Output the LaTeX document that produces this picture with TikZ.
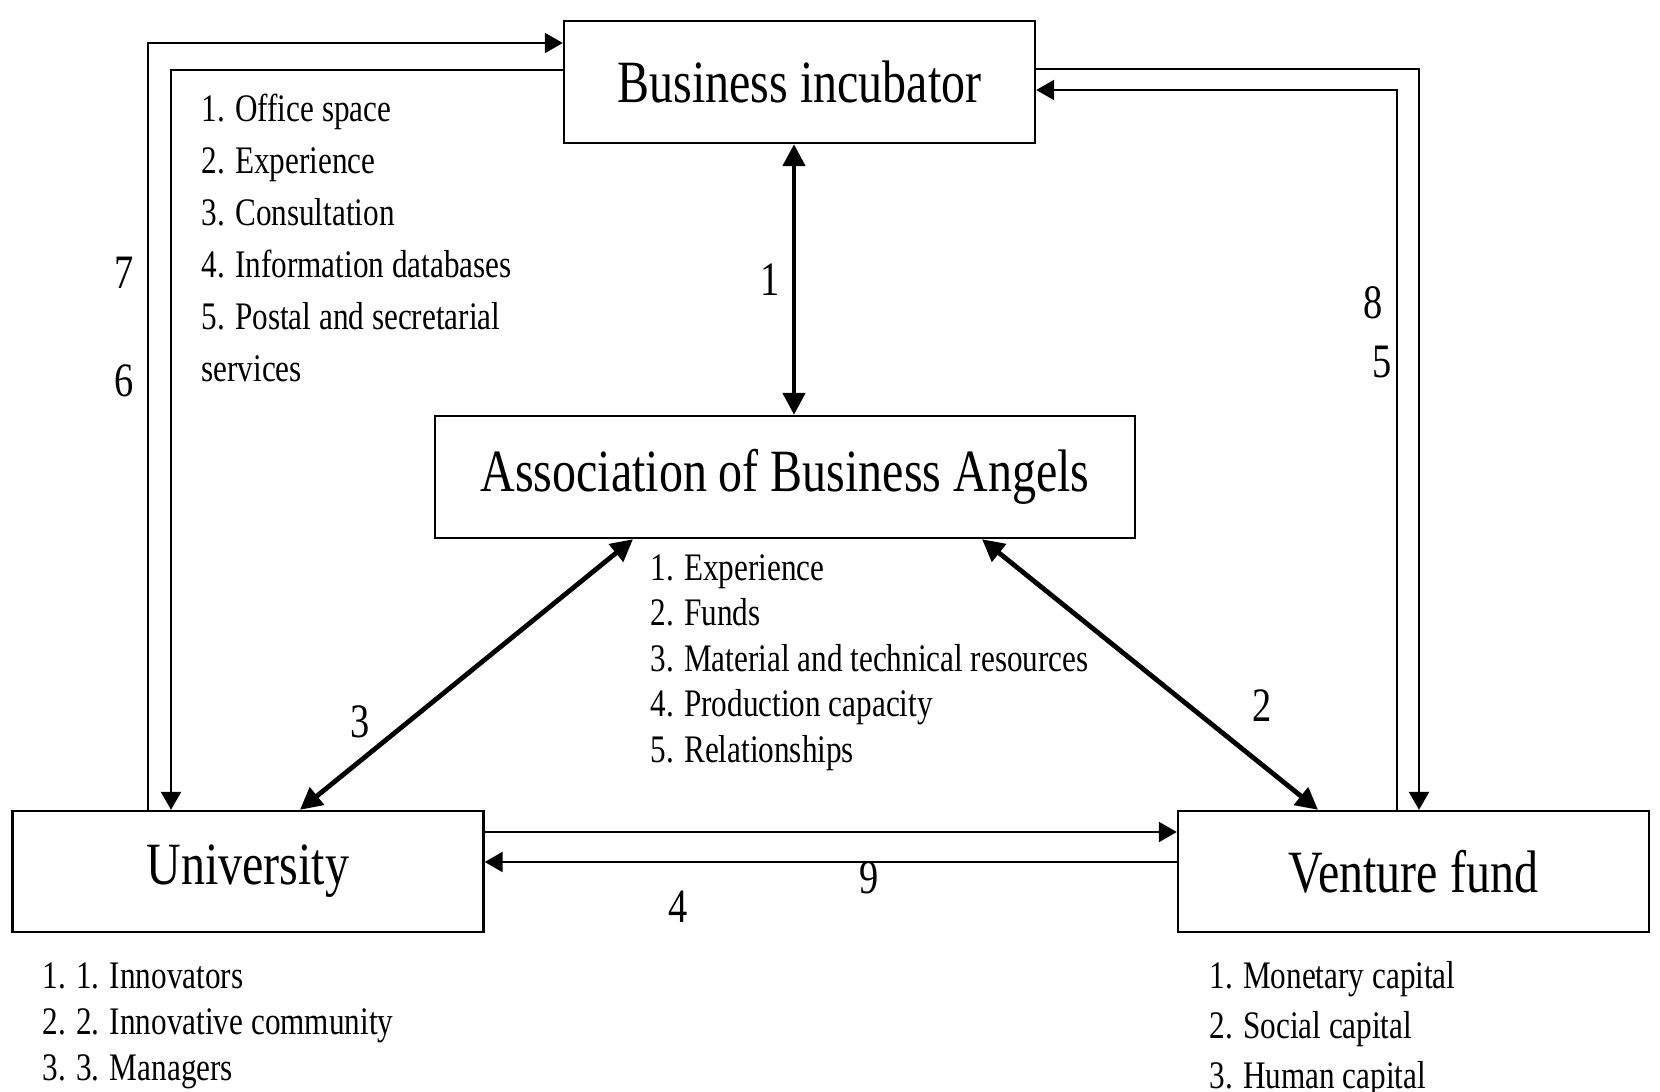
\documentclass[tikz,border=0pt]{standalone}
\usepackage{fontspec}
\setmainfont[FakeStretch=0.8]{Liberation Serif}
\usepackage{tikz}
\usetikzlibrary{arrows.meta, positioning}
\tikzset{
  box/.style={rectangle, draw=black, line width=1.2pt, fill=white,
              minimum width=235.5pt, minimum height=61pt, inner sep=0pt,
              font=\fontsize{30}{36}\selectfont},
  boxW/.style={box, minimum width=350pt},
  arrow/.style={-{Triangle[length=9pt, width=10pt]}, line width=1.2pt},
  arrowT/.style={{Triangle[length=11pt, width=11pt]}-{Triangle[length=11pt, width=11pt]},
                 line width=2.4pt},
  num/.style={font=\fontsize{24}{28}\selectfont, inner sep=0pt},
  itemlist/.style={align=left, anchor=base west, inner sep=0pt},
}
\begin{document}
\begin{tikzpicture}[x=0.5pt, y=-0.5pt]
  \useasboundingbox (0,0) rectangle (1660,1092);

  % --- Nodes ---
  \node[box] (bi) at (799.5,82) {Business incubator};
  \node[boxW] (aba) at (785,477) {Association of Business Angels};
  \node[box, minimum height=60.5pt] (uni) at (248,871.5) {University};
  \node[box, minimum height=60.5pt] (vf) at (1413.5,871.5) {Venture fund};

  % --- Lists (placed at the baseline of their last line) ---
  \node[itemlist, font=\fontsize{19.5}{26}\selectfont] (bilist) at (201,381)
    {1. Office space\\2. Experience\\3. Consultation\\4. Information databases\\
     5. Postal and secretarial\\services};
  \node[itemlist, font=\fontsize{19.5}{22.75}\selectfont] (abalist) at (650,762)
    {1. Experience\\2. Funds\\3. Material and technical resources\\
     4. Production capacity\\5. Relationships};
  \node[itemlist, font=\fontsize{19.5}{23}\selectfont] (unilist) at (42,1080)
    {1. 1. Innovators\\2. 2. Innovative community\\3. 3. Managers};
  \node[itemlist, font=\fontsize{19.5}{25}\selectfont] (vflist) at (1209,1088)
    {1. Monetary capital\\2. Social capital\\3. Human capital};

  % --- Edges ---
  \draw[arrowT] ([xshift=-2.75pt]bi.south) -- node[num, midway, xshift=-12pt]{1}
    ([xshift=4.5pt]aba.north);
  \draw[arrowT] ([xshift=-76pt]aba.south) -- node[num, pos=0.675, xshift=-24pt]{3}
    ([xshift=26pt]uni.north);
  \draw[arrowT] ([xshift=98.5pt]aba.south) -- node[num, pos=0.616, xshift=36.5pt]{2}
    ([xshift=-47.75pt]vf.north);

  \draw[arrow] ([xshift=-50pt]uni.north) |- node[num, pos=0.35, xshift=-12pt]{7}
    node[num, pos=0.28, xshift=-12pt]{6} ([yshift=19.5pt]bi.west);
  \draw[arrow] ([yshift=6pt]bi.west) -| ([xshift=-38.5pt]uni.north);

  \draw[arrow] ([yshift=6.5pt]bi.east) -| ([xshift=2.75pt]vf.north);
  \draw[arrow] ([xshift=-8.25pt]vf.north) |- node[num, pos=0.352, xshift=-12pt]{8}
    node[num, pos=0.311, xshift=-7.5pt]{5} ([yshift=-4pt]bi.east);

  \draw[arrow] ([yshift=19.75pt]uni.east) -- ([yshift=19.75pt]vf.west);
  \draw[arrow] ([yshift=4.75pt]vf.west) -- node[num, pos=0.444, yshift=-8pt]{9}
    node[num, pos=0.72, yshift=-22.5pt]{4} ([yshift=4.75pt]uni.east);

\end{tikzpicture}
\end{document}
